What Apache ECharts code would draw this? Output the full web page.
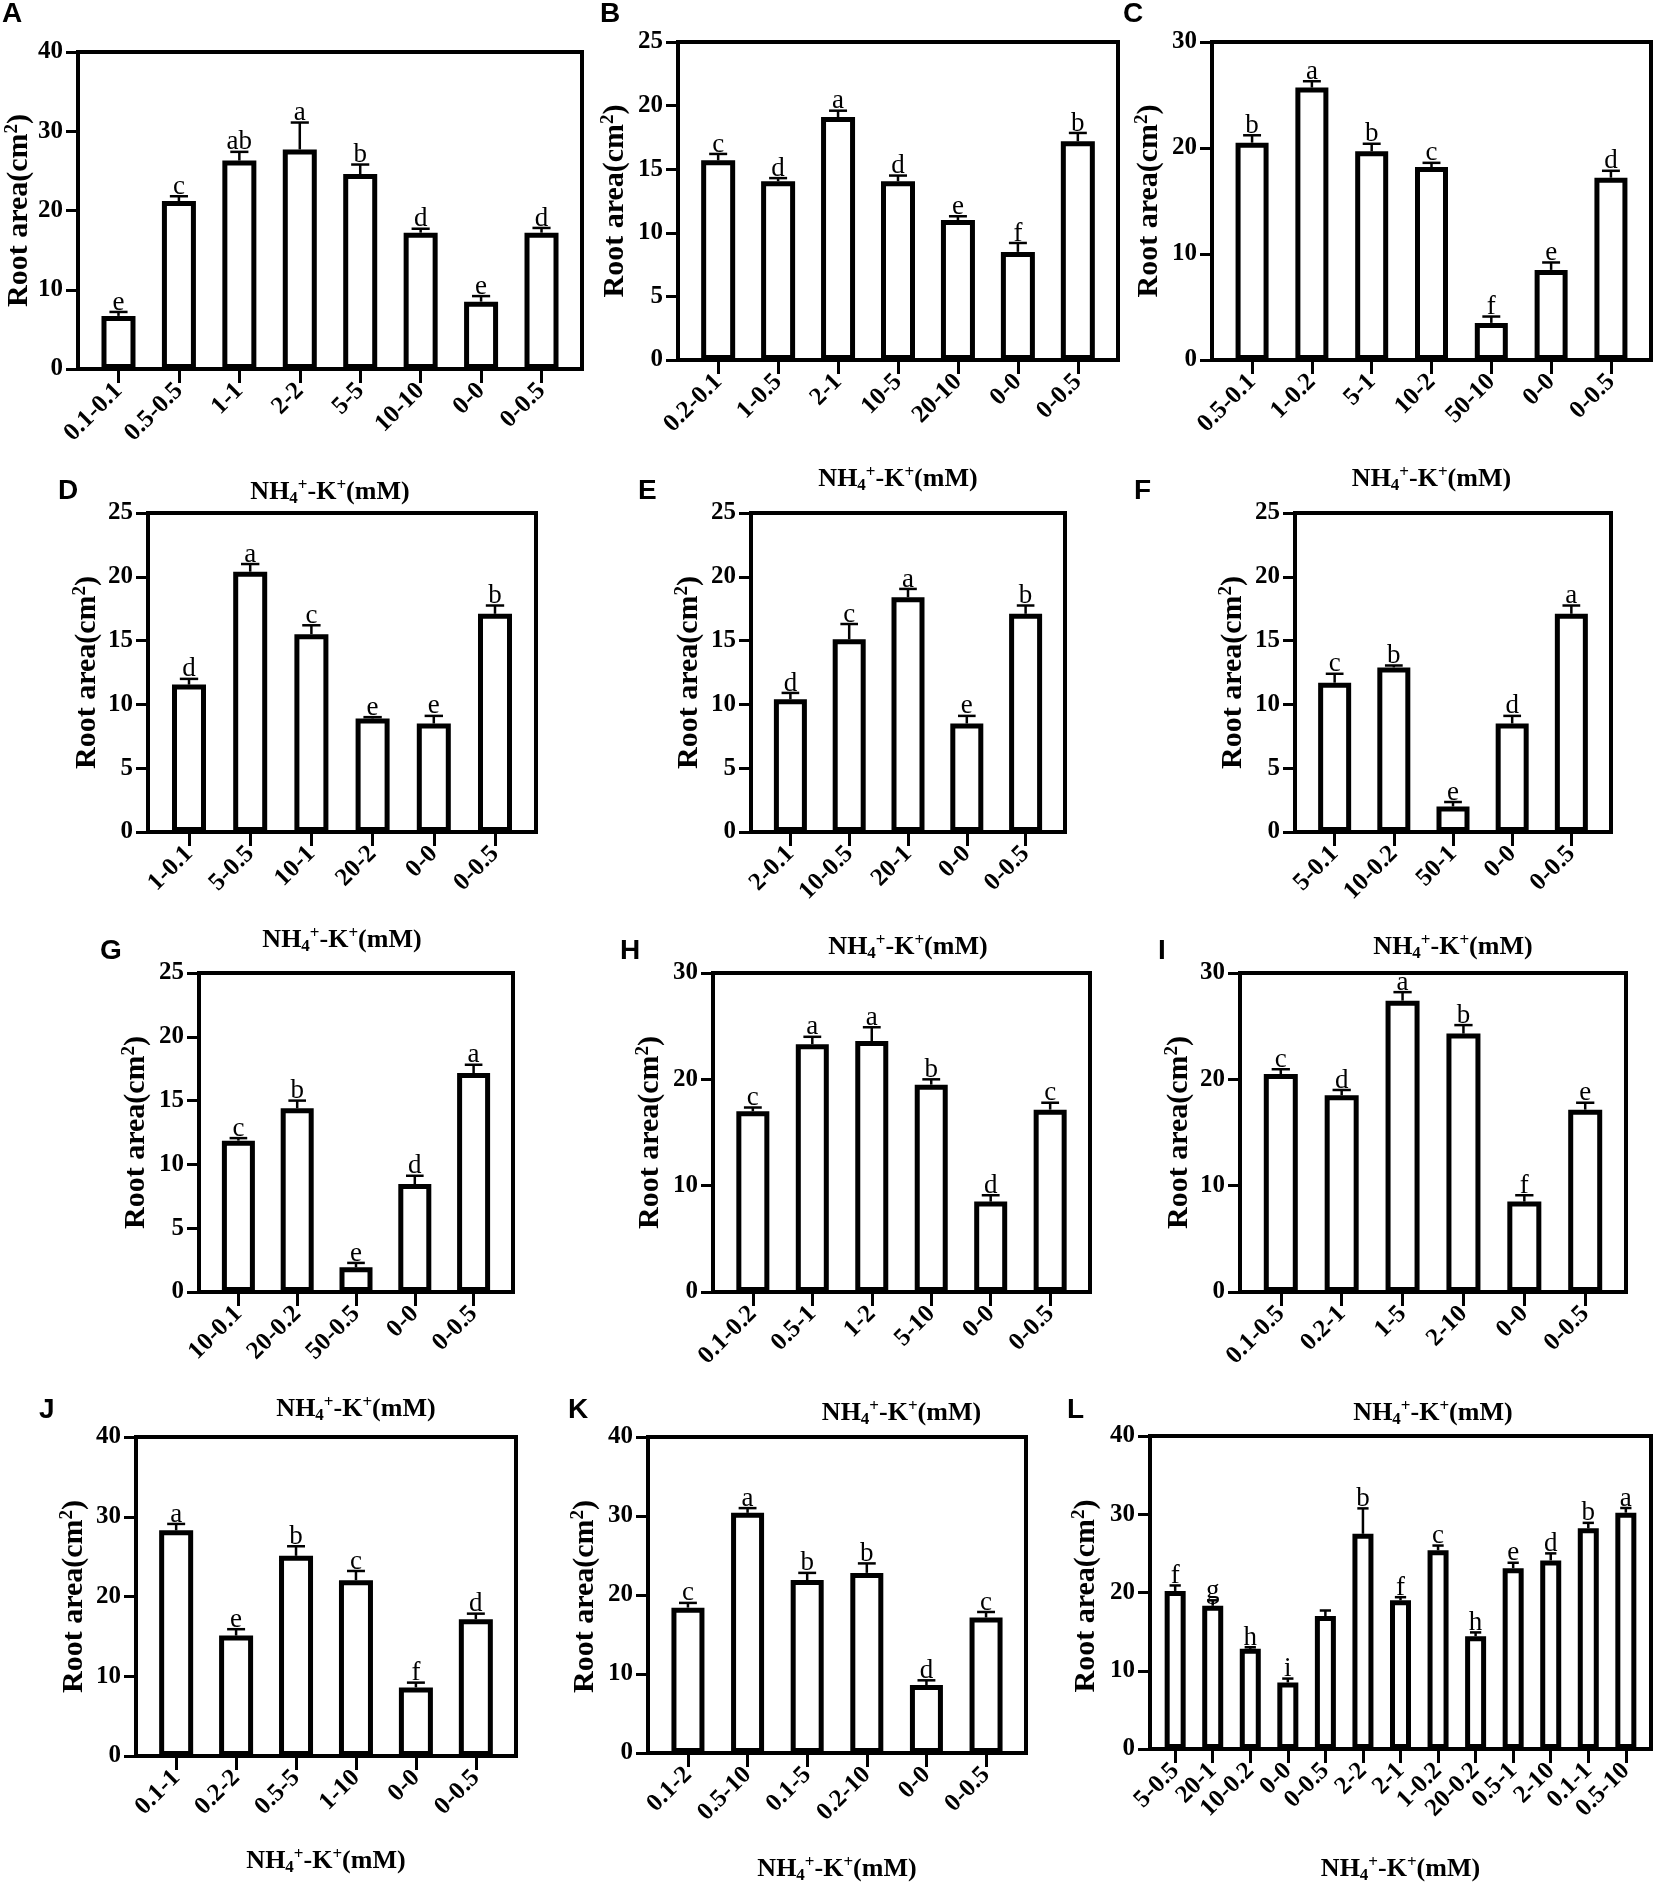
<!DOCTYPE html>
<html>
<head>
<meta charset="utf-8">
<script src="https://cdn.jsdelivr.net/npm/echarts@6/dist/echarts.min.js"></script>
<style>
  html, body { margin: 0; padding: 0; background: #fff; }
  #chart { width: 1654px; height: 1885px; }
</style>
</head>
<body>
<div id="chart"></div>
<script>
// values (mean, SE, significance letters)
const catsA = ["0.1-0.1", "0.5-0.5", "1-1", "2-2", "5-5", "10-10", "0-0", "0-0.5"];
const meanA = [6.7, 21.2, 26.3, 27.7, 24.6, 17.2, 8.5, 17.2];
const seA = [0.5, 0.6, 1.1, 3.4, 1.2, 0.5, 0.7, 0.6];
const sigA = ["e", "c", "ab", "a", "b", "d", "e", "d"];

const catsB = ["0.2-0.1", "1-0.5", "2-1", "10-5", "20-10", "0-0", "0-0.5"];
const meanB = [15.7, 14.05, 19.1, 14.05, 11.0, 8.5, 17.2];
const seB = [0.5, 0.25, 0.5, 0.45, 0.3, 0.7, 0.65];
const sigB = ["c", "d", "a", "d", "e", "f", "b"];

const catsC = ["0.5-0.1", "1-0.2", "5-1", "10-2", "50-10", "0-0", "0-0.5"];
const meanC = [20.5, 25.7, 19.7, 18.2, 3.5, 8.5, 17.2];
const seC = [0.7, 0.6, 0.7, 0.4, 0.6, 0.7, 0.65];
const sigC = ["b", "a", "b", "c", "f", "e", "d"];

const catsD = ["1-0.1", "5-0.5", "10-1", "20-2", "0-0", "0-0.5"];
const meanD = [11.55, 20.4, 15.5, 8.9, 8.5, 17.1];
const seD = [0.45, 0.6, 0.7, 0.1, 0.6, 0.65];
const sigD = ["d", "a", "c", "e", "e", "b"];

const catsE = ["2-0.1", "10-0.5", "20-1", "0-0", "0-0.5"];
const meanE = [10.4, 15.1, 18.4, 8.5, 17.1];
const seE = [0.5, 1.2, 0.65, 0.6, 0.65];
const sigE = ["d", "c", "a", "e", "b"];

const catsF = ["5-0.1", "10-0.2", "50-1", "0-0", "0-0.5"];
const meanF = [11.7, 12.9, 2.0, 8.5, 17.1];
const seF = [0.7, 0.15, 0.35, 0.6, 0.65];
const sigF = ["c", "b", "e", "d", "a"];

const catsG = ["10-0.1", "20-0.2", "50-0.5", "0-0", "0-0.5"];
const meanG = [11.86, 14.4, 1.93, 8.46, 17.16];
const seG = [0.2, 0.6, 0.35, 0.65, 0.65];
const sigG = ["c", "b", "e", "d", "a"];

const catsH = ["0.1-0.2", "0.5-1", "1-2", "5-10", "0-0", "0-0.5"];
const meanH = [17.0, 23.3, 23.6, 19.5, 8.5, 17.15];
const seH = [0.35, 0.7, 1.3, 0.5, 0.6, 0.65];
const sigH = ["c", "a", "a", "b", "d", "c"];

const catsI = ["0.1-0.5", "0.2-1", "1-5", "2-10", "0-0", "0-0.5"];
const meanI = [20.5, 18.5, 27.4, 24.3, 8.5, 17.15];
const seI = [0.45, 0.5, 0.8, 0.8, 0.6, 0.65];
const sigI = ["c", "d", "a", "b", "f", "e"];

const catsJ = ["0.1-1", "0.2-2", "0.5-5", "1-10", "0-0", "0-0.5"];
const meanJ = [28.3, 15.1, 25.1, 22.05, 8.6, 17.15];
const seJ = [0.8, 0.8, 1.2, 1.15, 0.6, 0.7];
const sigJ = ["a", "e", "b", "c", "f", "d"];

const catsK = ["0.1-2", "0.5-10", "0.1-5", "0.2-10", "0-0", "0-0.5"];
const meanK = [18.4, 30.4, 21.9, 22.8, 8.6, 17.15];
const seK = [0.6, 0.6, 0.9, 1.2, 0.6, 0.7];
const sigK = ["c", "a", "b", "b", "d", "c"];

const catsL = ["5-0.5", "20-1", "10-0.2", "0-0", "0-0.5", "2-2", "2-1", "1-0.2", "20-0.2", "0.5-1", "2-10", "0.1-1", "0.5-10"];
const meanL = [20.2, 18.3, 12.8, 8.5, 17.0, 27.5, 19.0, 25.4, 14.4, 23.1, 24.1, 28.2, 30.2];
const seL = [0.7, 0.7, 0.2, 0.5, 0.7, 3.25, 0.4, 0.6, 0.5, 0.7, 0.9, 0.7, 0.6];
const sigL = ["f", "g", "h", "i", "", "b", "f", "c", "h", "e", "d", "b", "a"];

const yTitle = "{t|Root area(cm}{sup|2}{t|)}";
const xTitle = "{t|NH}{sub|4}{sup|+}{t|-K}{sup|+}{t|(mM)}";

// panel layout: plot box [left, right, top, bottom], axis range, title gaps, letter spot
const panels = [
  { tag: "A", cats: catsA, mean: meanA, se: seA, sig: sigA, yMax: 40, yStep: 10, box: [78, 582, 52, 369], xGap: 108, yOff: 59, at: [2, 0] },
  { tag: "B", cats: catsB, mean: meanB, se: seB, sig: sigB, yMax: 25, yStep: 5, box: [678, 1118, 42, 360], xGap: 104, yOff: 63, at: [600, 0] },
  { tag: "C", cats: catsC, mean: meanC, se: seC, sig: sigC, yMax: 30, yStep: 10, box: [1212, 1651, 42, 360], xGap: 104, yOff: 63, at: [1123, 0] },
  { tag: "D", cats: catsD, mean: meanD, se: seD, sig: sigD, yMax: 25, yStep: 5, box: [148, 536, 513, 832], xGap: 93, yOff: 61, at: [58, 477] },
  { tag: "E", cats: catsE, mean: meanE, se: seE, sig: sigE, yMax: 25, yStep: 5, box: [751, 1065, 513, 832], xGap: 100, yOff: 62, at: [638, 477] },
  { tag: "F", cats: catsF, mean: meanF, se: seF, sig: sigF, yMax: 25, yStep: 5, box: [1295, 1611, 513, 832], xGap: 100, yOff: 62, at: [1134, 477] },
  { tag: "G", cats: catsG, mean: meanG, se: seG, sig: sigG, yMax: 25, yStep: 5, box: [199, 513, 973, 1292], xGap: 102, yOff: 63, at: [100, 937] },
  { tag: "H", cats: catsH, mean: meanH, se: seH, sig: sigH, yMax: 30, yStep: 10, box: [713, 1090, 973, 1292], xGap: 106, yOff: 63, at: [620, 937] },
  { tag: "I", cats: catsI, mean: meanI, se: seI, sig: sigI, yMax: 30, yStep: 10, box: [1240, 1626, 973, 1292], xGap: 106, yOff: 61, at: [1158, 937] },
  { tag: "J", cats: catsJ, mean: meanJ, se: seJ, sig: sigJ, yMax: 40, yStep: 10, box: [136, 516, 1437, 1756], xGap: 90, yOff: 62, at: [39, 1396] },
  { tag: "K", cats: catsK, mean: meanK, se: seK, sig: sigK, yMax: 40, yStep: 10, box: [648, 1026, 1437, 1756], xGap: 101, yOff: 63, at: [568, 1396] },
  { tag: "L", cats: catsL, mean: meanL, se: seL, sig: sigL, yMax: 40, yStep: 10, box: [1150, 1651, 1436, 1756], xGap: 105, yOff: 64, at: [1067, 1396] }
];

const serif = "'Liberation Serif', 'Times New Roman', serif";
const PAD = 0.67;

const bodyStyle = size => ({ fontSize: size, fontWeight: "bold", fontFamily: serif, color: "#000", fill: "#000" });
const supStyle = size => ({ fontSize: size, fontWeight: "bold", fontFamily: serif, color: "#000", fill: "#000", padding: [0, 0, Math.round(size * 0.75), 0] });
const subStyle = size => ({ fontSize: size, fontWeight: "bold", fontFamily: serif, color: "#000", fill: "#000", padding: [Math.round(size * 0.75), 0, 0, 0] });

function makeRender(sig) {
  return function (params, api) {
    const x = api.value(0), m = api.value(1), e = api.value(2);
    const base = api.coord([x, m]);
    const top = api.coord([x, m + e]);
    const half = api.size([1, 0])[0] * 0.15;
    return {
      type: "group",
      children: [
        { type: "line", shape: { x1: base[0], y1: base[1], x2: top[0], y2: top[1] }, style: { stroke: "#000", lineWidth: 2.5 } },
        { type: "line", shape: { x1: top[0] - half, y1: top[1], x2: top[0] + half, y2: top[1] }, style: { stroke: "#000", lineWidth: 2.5 } },
        {
          type: "text", x: top[0], y: top[1] + 4,
          style: { text: sig[params.dataIndex], fontSize: 27, fontFamily: serif, fill: "#000", align: "center", verticalAlign: "bottom" }
        }
      ]
    };
  };
}

const grid = [], xAxis = [], yAxis = [], series = [], graphic = [];

panels.forEach((p, i) => {
  const [l, r, t, b] = p.box;
  const n = p.cats.length;
  const idx = p.cats.map((c, k) => k);
  const step = (r - l) / (n - 1 + 2 * PAD);

  grid.push({ left: l, top: t, width: r - l, height: b - t, show: true, borderColor: "#000", borderWidth: 4 });

  xAxis.push({
    gridIndex: i, type: "value", min: -PAD, max: n - 1 + PAD,
    axisLine: { show: true, onZero: false, lineStyle: { color: "#000", width: 4 } },
    axisTick: { show: true, customValues: idx, length: 14, lineStyle: { color: "#000", width: 3 } },
    axisLabel: {
      customValues: idx, rotate: 45, margin: 18, fontSize: 25, fontWeight: "bold", fontFamily: serif, color: "#000",
      formatter: v => p.cats[Math.round(v)]
    },
    splitLine: { show: false },
    name: xTitle, nameLocation: "middle", nameGap: p.xGap,
    nameTextStyle: { fontSize: 26, fontWeight: "bold", fontFamily: serif, color: "#000", rich: { t: bodyStyle(26), sup: supStyle(17), sub: subStyle(17) } }
  });

  yAxis.push({
    gridIndex: i, type: "value", min: 0, max: p.yMax, interval: p.yStep,
    axisLine: { show: true, onZero: false, lineStyle: { color: "#000", width: 4 } },
    axisTick: { show: true, length: 12, lineStyle: { color: "#000", width: 3 } },
    axisLabel: { margin: 15, fontSize: 25, fontWeight: "bold", fontFamily: serif, color: "#000" },
    splitLine: { show: false }
  });

  series.push({
    type: "bar", xAxisIndex: i, yAxisIndex: i,
    data: p.mean.map((v, k) => [k, v]),
    barWidth: Math.round(step * 0.56),
    itemStyle: { color: "#fff", borderColor: "#000", borderWidth: 5 },
    silent: true
  });

  series.push({
    type: "custom", xAxisIndex: i, yAxisIndex: i, z: 5,
    data: p.mean.map((v, k) => [k, v, p.se[k]]),
    renderItem: makeRender(p.sig),
    silent: true
  });

  // y-axis title, rotated to read bottom-to-top
  graphic.push({
    type: "text", x: l - p.yOff, y: (t + b) / 2, rotation: Math.PI / 2,
    style: {
      text: yTitle, fontSize: 30, fontWeight: "bold", fontFamily: serif, fill: "#000",
      align: "center", verticalAlign: "middle",
      rich: { t: bodyStyle(30), sup: supStyle(19) }
    }
  });

  graphic.push({
    type: "text", x: p.at[0], y: p.at[1],
    style: { text: p.tag, fontSize: 28, fontWeight: "bold", fontFamily: "'Liberation Sans', Arial, sans-serif", fill: "#000", verticalAlign: "top" }
  });
});

const chart = echarts.init(document.getElementById("chart"));
chart.setOption({
  backgroundColor: "#fff",
  animation: false,
  grid, xAxis, yAxis, series, graphic
});
</script>
</body>
</html>
